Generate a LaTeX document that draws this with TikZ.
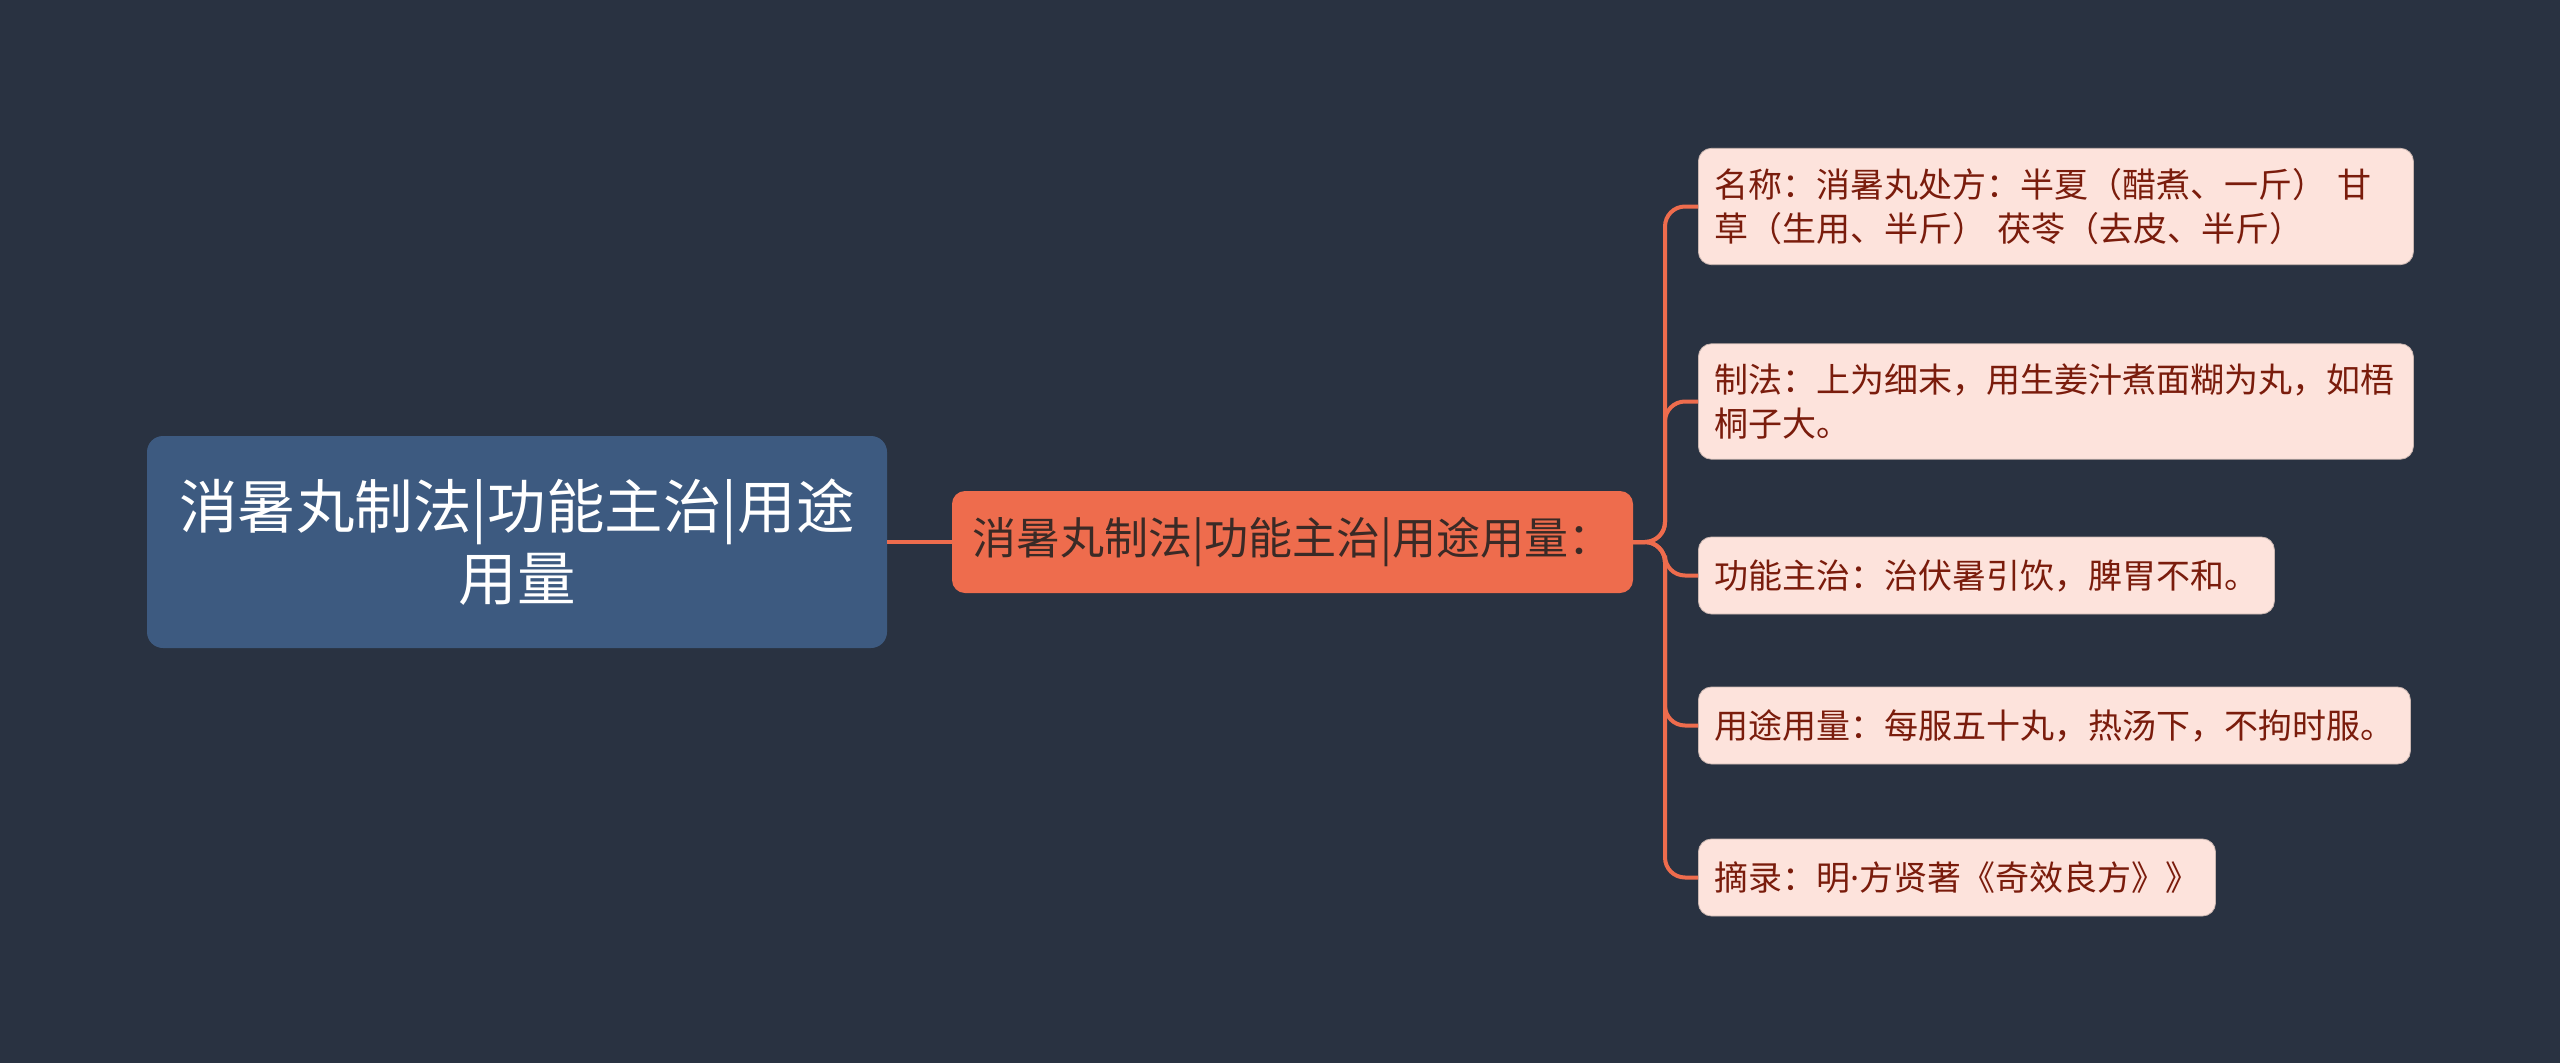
\documentclass[tikz,border=0pt]{standalone}
\usepackage{fontspec}
\newfontfamily\cjk{Noto Sans CJK SC}
\newfontfamily\latinf{Noto Sans}
\definecolor{bgc}{HTML}{293241}
\definecolor{rootc}{HTML}{3D5A80}
\definecolor{midc}{HTML}{EE6C4D}
\definecolor{midtext}{HTML}{3A2A26}
\definecolor{leafc}{HTML}{FDE3DC}
\definecolor{leaftext}{HTML}{7A1C0C}
\definecolor{linkc}{HTML}{EE6C4D}
\tikzset{
  rootbox/.style={fill=rootc, rounded corners=16pt, text=white, align=center,
    minimum width=740pt, minimum height=212pt, inner sep=0pt,
    font=\cjk\fontsize{58.5}{72}\selectfont},
  midbox/.style={fill=midc, rounded corners=13pt, text=midtext,
    minimum width=681pt, minimum height=102pt, inner sep=0pt,
    font=\cjk\fontsize{44}{50}\selectfont},
  leafbox/.style={fill=leafc, draw=leafc!80!black, line width=0.8pt, rounded corners=13pt, text=leaftext, align=left,
    anchor=west, inner xsep=16pt, inner ysep=20pt, minimum height=77pt,
    font=\cjk\fontsize{34}{44}\selectfont},
  widebox/.style={text width=683pt},
  link/.style={draw=linkc, line width=4pt, rounded corners=20pt}
}
\begin{document}
\begin{tikzpicture}[x=1pt,y=-1pt]
\path[fill=bgc] (0,0) rectangle (2560,1063);
\node[rootbox] (root) at (517,542) {消暑丸制法|功能主治|用途\\用量};
\node[midbox] (mid) at (1292.5,542) {消暑丸制法|功能主治|用途用量：};
\node[leafbox, widebox] (l1) at (1698,206.5) {名称：消暑丸处方：半夏（醋煮、一斤） 甘\\草（生用、半斤） 茯苓（去皮、半斤）};
\node[leafbox, widebox] (l2) at (1698,401.5) {制法：上为细末，用生姜汁煮面糊为丸，如梧\\桐子大。};
\node[leafbox] (l3) at (1698,575.5) {功能主治：治伏暑引饮，脾胃不和。};
\node[leafbox] (l4) at (1698,725.5) {用途用量：每服五十丸，热汤下，不拘时服。};
\node[leafbox] (l5) at (1698,877.5) {摘录：明{\latinf ·}方贤著《奇效良方》》};
\draw[link, rounded corners=0pt] (root.east) -- (mid.west);
\coordinate (j) at (1665,542);
\foreach \l in {l1,l2,l3,l4,l5}{
  \draw[link] (mid.east) -- (j) |- (\l.west);
}
\end{tikzpicture}
\end{document}
